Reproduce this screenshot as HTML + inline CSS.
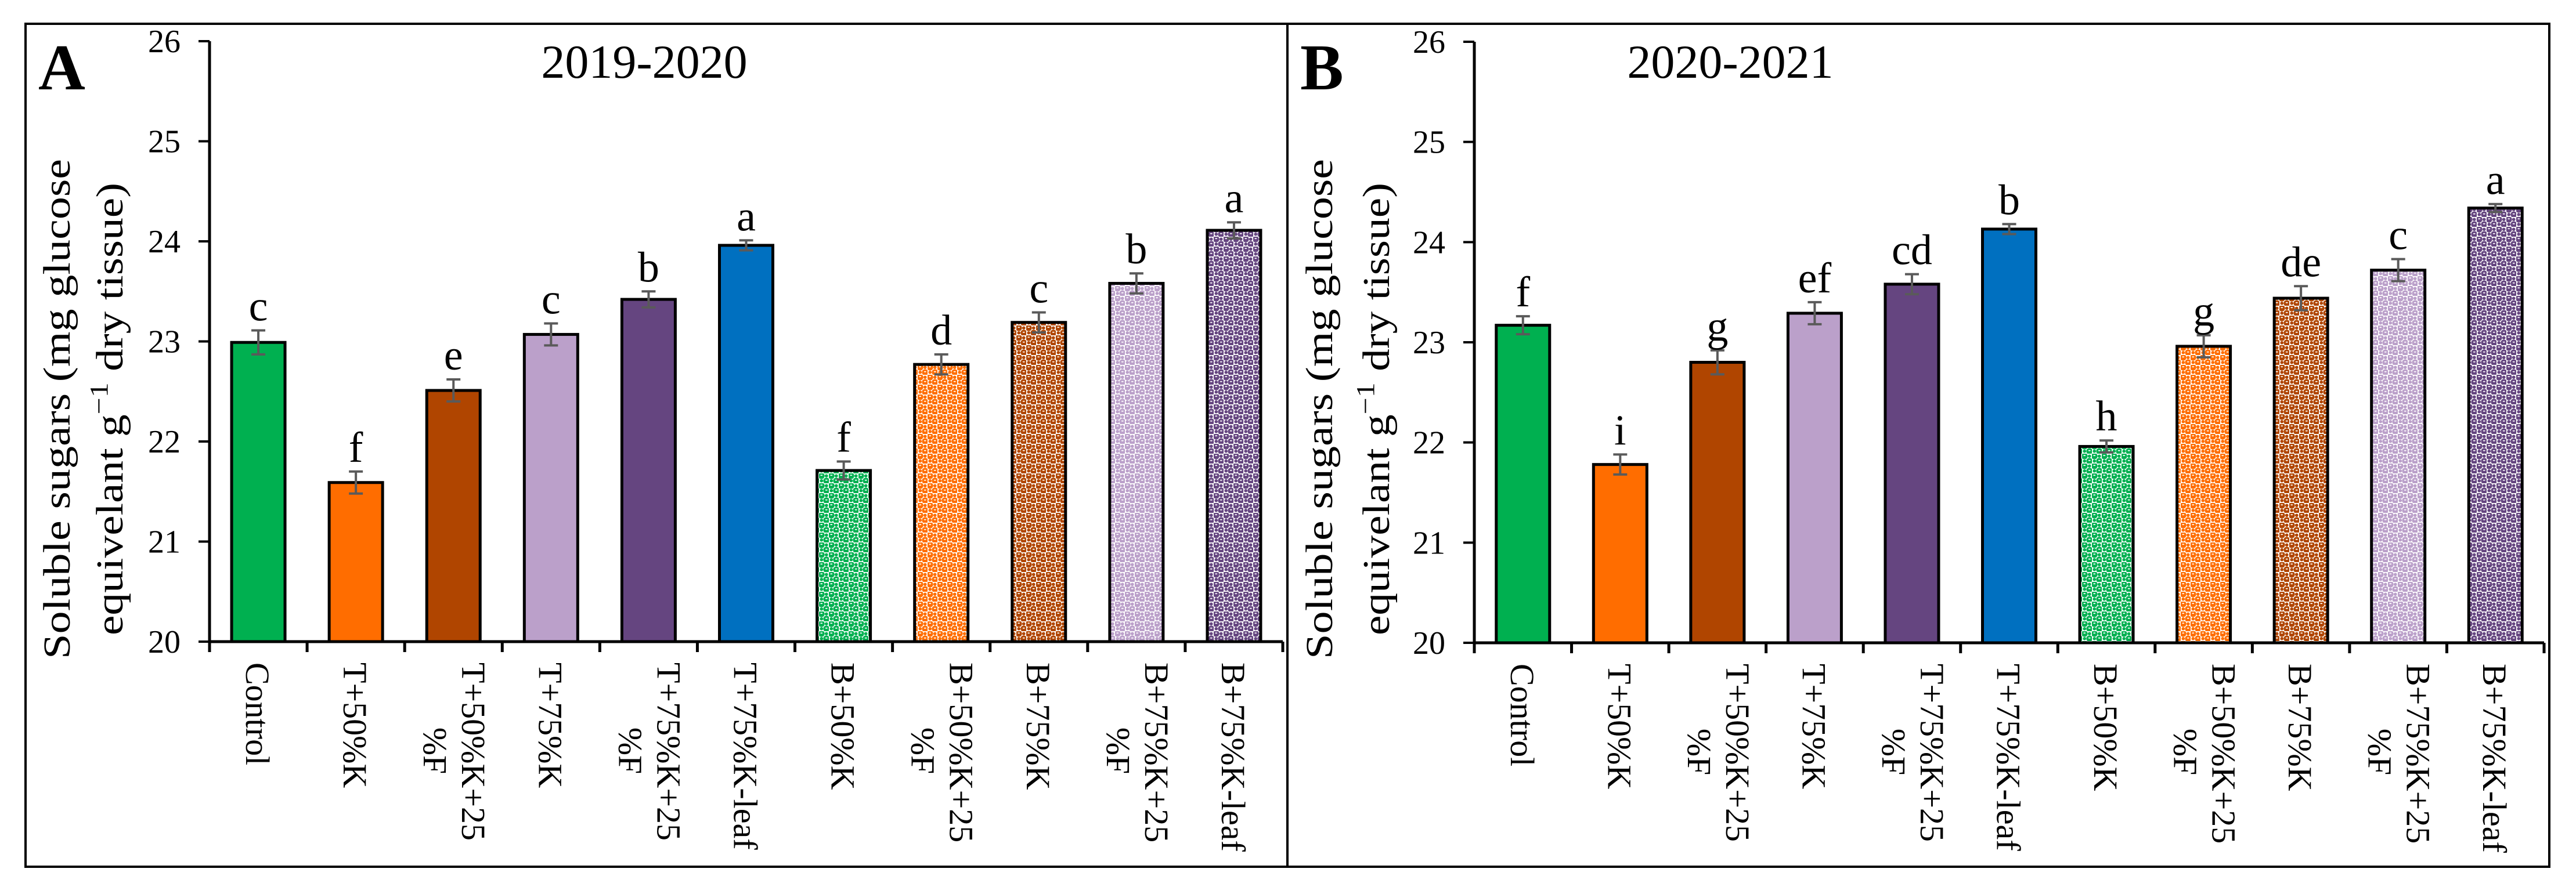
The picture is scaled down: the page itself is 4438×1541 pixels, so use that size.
<!DOCTYPE html>
<html><head><meta charset="utf-8"><style>
html,body{margin:0;padding:0;background:#fff;}
svg{display:block;font-family:"Liberation Serif","Times New Roman",serif;}
</style></head><body>
<svg id="fig" width="4438" height="1541" viewBox="0 0 4438 1541" xmlns="http://www.w3.org/2000/svg">
<defs></defs>
<rect x="44" y="41" width="4348" height="1453" fill="#fff" stroke="#000" stroke-width="4"/>
<line x1="2218" y1="41" x2="2218" y2="1494" stroke="#000" stroke-width="4"/>
</svg>
<script>
const categories = ["Control","T+50%K","T+50%K+25|%F","T+75%K","T+75%K+25|%F","T+75%K-leaf","B+50%K","B+50%K+25|%F","B+75%K","B+75%K+25|%F","B+75%K-leaf"];
const yTicks = [20,21,22,23,24,25,26];
const valuesA = [22.99,21.59,22.51,23.07,23.42,23.96,21.71,22.77,23.19,23.58,24.11];
const errorsA = [0.12,0.11,0.11,0.11,0.08,0.05,0.09,0.1,0.1,0.1,0.08];
const lettersA = ["c","f","e","c","b","a","f","d","c","b","a"];
const valuesB = [23.17,21.78,22.80,23.29,23.58,24.13,21.96,22.96,23.44,23.72,24.34];
const errorsB = [0.09,0.1,0.12,0.11,0.1,0.05,0.06,0.11,0.12,0.11,0.04];
const lettersB = ["f","i","g","ef","cd","b","h","g","de","c","a"];
const colors = ["#00B050","#FF6D00","#B04500","#BBA0CA","#654580","#0070C0","#00B050","#FF6D00","#B04500","#BBA0CA","#654580"];
const patterned = [false,false,false,false,false,false,true,true,true,true,true];

const NS = "http://www.w3.org/2000/svg";
const svg = document.getElementById('fig');
const defs = svg.querySelector('defs');
function mk(tag, attrs, parent){
  const e = document.createElementNS(NS, tag);
  for (const k in attrs) e.setAttribute(k, attrs[k]);
  (parent||svg).appendChild(e);
  return e;
}
colors.forEach((c,i)=>{
  if(!patterned[i]) return;
  const p = mk('pattern',{id:'pat'+i,width:17,height:17,patternUnits:'userSpaceOnUse'},defs);
  mk('rect',{x:0,y:0,width:17,height:17,fill:'#fff'},p);
  mk('circle',{cx:4.25,cy:4.25,r:5.4,fill:c},p);
  mk('circle',{cx:12.75,cy:12.75,r:5.4,fill:c},p);
  mk('circle',{cx:12.75,cy:4.25,r:2.8,fill:c},p);
  mk('circle',{cx:4.25,cy:12.75,r:2.8,fill:c},p);
  mk('ellipse',{cx:4.25,cy:3.2,rx:2,ry:0.9,fill:'#fff'},p);
  mk('ellipse',{cx:12.75,cy:11.7,rx:2,ry:0.9,fill:'#fff'},p);
});

function panel(cfg){
  const g = mk('g',{});
  
  
  const y = v => cfg.y0 - (v-20)*(cfg.y0-cfg.y1)/6;
  const step = (cfg.xEnd-cfg.x0)/categories.length;
  const xc = i => cfg.x0 + step*(i+0.5);
  const ax = mk('line',{x1:cfg.x0,y1:y(26),x2:cfg.x0,y2:cfg.y0+16,stroke:'#000','stroke-width':5},g);
  
  
  yTicks.forEach(t=>{
    const tl = mk('line',{x1:cfg.x0-19,y1:y(t),x2:cfg.x0,y2:y(t),stroke:'#000','stroke-width':4},g);
    
    
    const tx = mk('text',{x:cfg.x0-50,y:y(t)+19,'text-anchor':'end','font-size':56},g);
    tx.textContent = t;
    
    
  });
  categories.forEach((cat,i)=>{
    const v = cfg.values[i], e = cfg.errors[i];
    const bw = 92;
    const r = mk('rect',{x:xc(i)-bw/2,y:y(v),width:bw,height:cfg.y0-y(v),fill:patterned[i]?'url(#pat'+i+')':colors[i],stroke:'#000','stroke-width':5},g);
    
    
    const eg = mk('g',{stroke:'#5a5a5a','stroke-width':4},g);
    
    
    mk('line',{x1:xc(i),y1:y(v+e),x2:xc(i),y2:y(v-e)},eg);
    mk('line',{x1:xc(i)-12,y1:y(v+e),x2:xc(i)+12,y2:y(v+e)},eg);
    mk('line',{x1:xc(i)-12,y1:y(v-e),x2:xc(i)+12,y2:y(v-e)},eg);
    const lt = mk('text',{x:xc(i),y:y(v+e)-17,'text-anchor':'middle','font-size':74},g);
    lt.textContent = cfg.letters[i];
    
    
    const parts = cat.split('|');
    if(parts.length===1){
      const t = mk('text',{transform:`translate(${xc(i)-21},${cfg.y0+36}) rotate(90)`,'font-size':58},g);
      t.textContent = parts[0];
      
      
    } else {
      const t1 = mk('text',{transform:`translate(${xc(i)+15},${cfg.y0+36}) rotate(90)`,'font-size':58},g);
      t1.textContent = parts[0];
      
      
      const t2 = mk('text',{transform:`translate(${xc(i)-51},${cfg.y0+36+152}) rotate(90)`,'font-size':58,'text-anchor':'middle'},g);
      t2.textContent = parts[1];
      
      
    }
  });
  const xa = mk('line',{x1:cfg.x0,y1:cfg.y0,x2:cfg.xEnd,y2:cfg.y0,stroke:'#000','stroke-width':5},g);
  
  
  for(let k=0;k<=categories.length;k++){
    const tk = mk('line',{x1:cfg.x0+step*k,y1:cfg.y0,x2:cfg.x0+step*k,y2:cfg.y0+18,stroke:'#000','stroke-width':5},g);
    
    
  }
  const cy = 705;
  const yt1 = mk('text',{transform:`translate(${cfg.titleX1},${cy}) rotate(-90)`,'text-anchor':'middle','font-size':66,textLength:862,lengthAdjust:'spacingAndGlyphs'},g);
  yt1.textContent = 'Soluble sugars  (mg glucose';
  
  
  const yt2 = mk('text',{transform:`translate(${cfg.titleX2},${cy}) rotate(-90)`,'text-anchor':'middle','font-size':66,textLength:780,lengthAdjust:'spacingAndGlyphs'},g);
  yt2.innerHTML = 'equivelant g<tspan dy="-26" font-size="44">\u22121</tspan><tspan dy="26"> dry tissue)</tspan>';
  
  
  const pl = mk('text',{x:cfg.letterX,y:154,'font-size':112,'font-weight':'bold'},g);
  pl.textContent = cfg.letter;
  
  
  const pt = mk('text',{x:cfg.titleCx,y:134,'text-anchor':'middle','font-size':82},g);
  pt.textContent = cfg.title;
  
  
}
panel({name:'panel-a',x0:361,xEnd:2210,y0:1106,y1:71,values:valuesA,errors:errorsA,letters:lettersA,titleX1:120,titleX2:211,letterX:66,letter:'A',title:'2019-2020',titleCx:1110});
panel({name:'panel-b',x0:2540,xEnd:4383,y0:1108,y1:72,values:valuesB,errors:errorsB,letters:lettersB,titleX1:2295,titleX2:2393,letterX:2240,letter:'B',title:'2020-2021',titleCx:2981});
</script>
</body></html>
